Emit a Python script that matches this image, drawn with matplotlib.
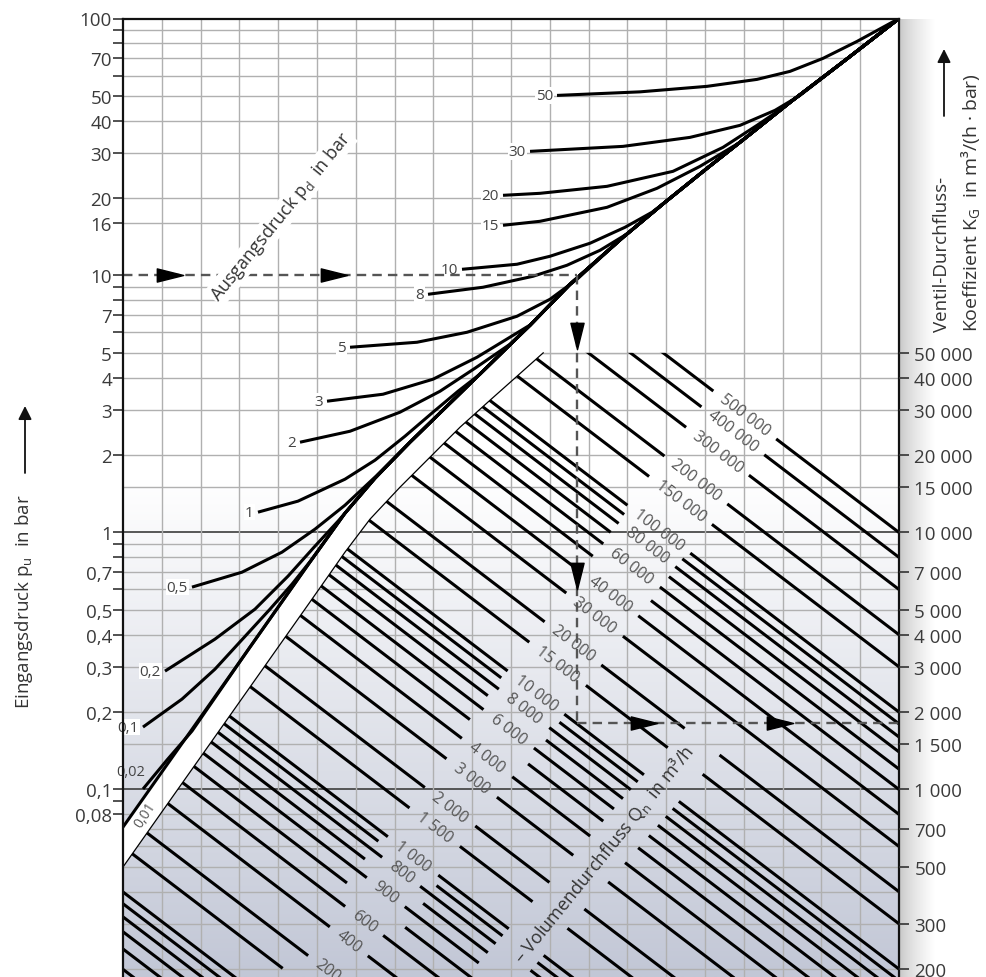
import numpy as np
import matplotlib.pyplot as plt
from matplotlib.patches import Polygon
from matplotlib.path import Path
from matplotlib.colors import LinearSegmentedColormap
from matplotlib.ticker import NullLocator

plt.rcParams['font.family'] = ['Open Sans', 'DejaVu Sans']
plt.rcParams['mathtext.fontset'] = 'custom'
plt.rcParams['mathtext.rm'] = 'Open Sans'
plt.rcParams['mathtext.it'] = 'Open Sans:italic'

# ---- chart values ----------------------------------------------------------
X_MAX = 20                      # horizontal scale: 20 equal, unlabelled steps
P_MIN, P_MAX = 0.01863, 100     # inlet pressure range shown (bar)
KG_PER_BAR = 10000              # right scale = left scale * 10 000

pu_ticks = [100, 90, 80, 70, 60, 50, 40, 30, 20, 16, 10, 9, 8, 7, 6, 5, 4, 3, 2,
            1, 0.9, 0.8, 0.7, 0.6, 0.5, 0.4, 0.3, 0.2, 0.1, 0.09, 0.08]
pu_tick_labels = ['100', '', '', '70', '', '50', '40', '30', '20', '16', '10', '', '', '7', '',
                  '5', '4', '3', '2', '1', '', '', '0,7', '', '0,5', '0,4', '0,3', '0,2',
                  '0,1', '', '0,08']
kg_ticks = [50000, 40000, 30000, 20000, 15000, 10000, 7000, 5000, 4000, 3000,
            2000, 1500, 1000, 700, 500, 300, 200]

grid_rows = [90, 80, 70, 60, 50, 40, 30, 20, 16, 9, 8, 7, 6, 5, 4, 3, 2, 1.5,
             0.9, 0.8, 0.7, 0.6, 0.5, 0.4, 0.3, 0.2, 0.15,
             0.08, 0.07, 0.06, 0.05, 0.04, 0.03, 0.02]
decade_rows = [1, 0.1]

# upper edge of the white band (critical flow line, also the 0,01 curve)
env_x = [0, 1.546, 3.273, 4.871, 5.722, 6.495, 7.397, 8.428, 9.459, 10.490, 11.521,
         12.887, 13.969, 15.052, 16.160, 17.191, 18.608, 20]
env_p = [0.0714, 0.1529, 0.358, 0.7873, 1.189, 1.626, 2.245, 3.184, 4.514, 6.402,
         9.243, 14.08, 19.27, 26.12, 35.42, 47.17, 68.71, 100]

# lower edge of the white band, where the flow lines begin
band_x = [0, 1.546, 3.273, 4.871, 5.722, 6.366, 7.139, 7.912, 8.686, 9.459, 10.155,
          10.83]
band_p = [0.04991, 0.1069, 0.2502, 0.5502, 0.8385, 1.1265, 1.5004, 1.963, 2.568,
          3.27, 4.055, 5.0]

# outlet pressure curves pd (bar): points
pd50_x = [11.186, 13.325, 15.052, 16.340, 17.191, 18.041, 18.918, 20]
pd50_p = [50.2, 51.83, 54.45, 57.95, 62.27, 69.96, 81.44, 100]
pd30_x = [10.490, 12.887, 14.613, 15.902, 16.804, 17.448, 18.015]
pd30_p = [30.41, 31.80, 34.47, 38.39, 43.92, 50.2, 58.48]
pd20_x = [9.794, 10.747, 12.474, 14.175, 15.464, 16.340, 17.062]
pd20_p = [20.51, 20.88, 22.23, 25.43, 31.52, 38.39, 45.51]
pd15_x = [9.794, 10.747, 12.474, 13.763, 14.871, 15.902]
pd15_p = [15.68, 16.25, 18.42, 21.84, 26.59, 32.97]
pd10_x = [8.737, 10.155, 11.005, 12.036, 12.938, 13.634]
pd10_p = [10.57, 11.06, 11.88, 13.35, 15.40, 17.62]
pd8_x = [7.861, 9.278, 10.567, 11.443, 12.294, 13.015]
pd8_p = [8.45, 9.00, 9.93, 10.96, 12.53, 14.59]
pd5_x = [5.851, 7.577, 8.866, 10.155, 11.005, 11.701]
pd5_p = [5.257, 5.498, 6.013, 6.94, 8.08, 9.665]
pd3_x = [5.258, 6.701, 7.990, 9.124, 9.845, 10.438]
pd3_p = [3.242, 3.451, 3.948, 4.807, 5.598, 6.345]
pd2_x = [4.562, 5.851, 7.139, 8.170, 9.072, 9.974]
pd2_p = [2.245, 2.477, 2.938, 3.544, 4.356, 5.401]
pd1_x = [3.479, 4.510, 5.722, 6.495, 7.268, 7.990, 8.634, 9.201]
pd1_p = [1.1995, 1.324, 1.612, 1.911, 2.369, 2.938, 3.544, 4.128]
pd05_x = [1.778, 3.067, 4.098, 4.948, 5.722, 6.521]
pd05_p = [0.6128, 0.7006, 0.8383, 1.03, 1.277, 1.656]
pd02_x = [1.082, 2.371, 3.402, 4.253, 4.948, 5.541]
pd02_p = [0.2887, 0.3846, 0.5031, 0.6761, 0.8846, 1.106]
pd01_x = [0.515, 1.521, 2.371, 3.222, 3.789, 4.356]
pd01_p = [0.1749, 0.2247, 0.2939, 0.4058, 0.5031, 0.6294]
pd002_x = [0.515, 1.134, 1.778]
pd002_p = [0.1004, 0.1302, 0.1687]

# flow lines Qn in m3/h, and the numbers printed on them
qn_values = [500000, 400000, 300000, 200000, 150000, 100000, 90000, 80000, 70000,
             60000, 50000, 40000, 30000, 20000, 15000, 10000, 9000, 8000, 7000,
             6000, 5000, 4000, 3000, 2000, 1500, 1000, 900, 800, 700, 600, 500,
             400, 300, 200, 150, 100, 90, 80, 70, 60, 50, 40]
qn_labelled = [500000, 400000, 300000, 200000, 150000, 100000, 80000, 60000, 40000,
               30000, 20000, 15000, 10000, 8000, 6000, 4000, 3000, 2000, 1500, 1000,
               800, 600, 400, 300, 200]
qn_label_text = ['500 000', '400 000', '300 000', '200 000', '150 000', '100 000',
                 '80 000', '60 000', '40 000', '30 000', '20 000', '15 000', '10 000',
                 '8 000', '6 000', '4 000', '3 000', '2 000', '1 500', '1 000',
                 '800', '900', '600', '400', '200']
QN_REF = 500000     # flow line that ends at KG 10 000 on the right edge
QN_SLOPE = 0.115    # decades per grid step

# worked example (dashed path)
EX_PU = 10
EX_X = 11.69
EX_KG = 1815

# ---- layout helpers ---------------------------------------------------------
LAB_X0, LAB_LOG0, LAB_SLOPE = 16.02, 0.4562, 0.2007   # diagonal row of numbers
TXT_X0, TXT_LOG0, TXT_SLOPE = 9.897, -1.679, 0.172    # "Volumendurchfluss" row
TXT_XA, TXT_XB, TXT_GAP = 9.5, 15.0, 0.45


def qn_log(q, x):
    return np.log10(q / QN_REF) + QN_SLOPE * (X_MAX - x)


def cross(q, x0, log0, slope):
    return (np.log10(q / QN_REF) + QN_SLOPE * X_MAX - log0 + slope * x0) / (QN_SLOPE + slope)


def fmt_num(v):
    return f"{v:,}".replace(',', ' ')


fig = plt.figure(figsize=(9.86, 9.78), dpi=100)

# soft shadow right of the chart frame
sh = fig.add_axes([899 / 986, 0, 36 / 986, 958.5 / 978], zorder=-1)
sh.imshow(np.linspace(0, 1, 64)[None, :] ** 0.7, cmap=LinearSegmentedColormap.from_list(
    'sh', ['#c4c4c4', '#ffffff']), aspect='auto', extent=(0, 1, 0, 1))
sh.axis('off')

ax = fig.add_axes([123 / 986, 0, 776 / 986, 958.5 / 978])
ax.set_xlim(0, X_MAX)
ax.set_yscale('log')
ax.set_ylim(P_MIN, P_MAX)

# blue-grey gradient in the lower half
g = np.clip((0.52 - np.linspace(1, 0, 400)) / 0.52, 0, 1)[:, None]
ax.imshow(g, cmap=LinearSegmentedColormap.from_list('bg', ['#ffffff', '#c2c7d6']),
          extent=(0, 1, 0, 1), transform=ax.transAxes, aspect='auto', zorder=0)

ax.hlines(grid_rows, 0, X_MAX, color='#b0b0b0', lw=1.0, zorder=1)
ax.hlines(decade_rows, 0, X_MAX, color='#4a4a4a', lw=1.3, zorder=1)

# white band and the empty corner above 5 bar
mask_pts = list(zip(env_x, env_p)) + [(X_MAX, 5)] + list(zip(band_x, band_p))[::-1]
ax.add_patch(Polygon(mask_pts, closed=True, fc='white', ec='none', zorder=2))
ax.vlines(np.arange(1, X_MAX), P_MIN, P_MAX, color='#b0b0b0', lw=1.0, zorder=2.5)
ax.hlines([5], band_x[-1], X_MAX, color='#b0b0b0', lw=1.0, zorder=2.5)

# flow lines, clipped to the area right of the band
region = Polygon(list(zip(band_x, band_p)) + [(X_MAX, 5), (X_MAX, P_MIN), (0, P_MIN)],
                 closed=True, transform=ax.transData)
p0 = ax.transData.transform((10, 1))
p1 = ax.transData.transform((11, 10 ** (-QN_SLOPE)))
line_angle = np.degrees(np.arctan2(p1[1] - p0[1], p1[0] - p0[0]))
labels = dict(zip(qn_labelled, qn_label_text))
for q in qn_values:
    xl = cross(q, LAB_X0, LAB_LOG0, LAB_SLOPE)
    half = 0.25 + 0.08 * len(labels[q]) if q in labels else 0.75
    cuts = [(xl - half, xl + half)]
    xt = cross(q, TXT_X0, TXT_LOG0, TXT_SLOPE)
    if TXT_XA <= xt <= TXT_XB:
        cuts.append((xt - TXT_GAP, xt + TXT_GAP))
    segs = [(0.0, float(X_MAX))]
    for a, b in cuts:
        new = []
        for s, e in segs:
            if b <= s or a >= e:
                new.append((s, e))
                continue
            if a > s:
                new.append((s, a))
            if b < e:
                new.append((b, e))
        segs = new
    for s, e in segs:
        ln, = ax.plot([s, e], [10 ** qn_log(q, s), 10 ** qn_log(q, e)], color='black',
                      lw=2.2, solid_capstyle='butt', zorder=3)
        ln.set_clip_path(region)
    if q in labels:
        ax.text(xl, 10 ** qn_log(q, xl), labels[q], rotation=line_angle,
                rotation_mode='anchor', ha='center', va='center', fontsize=11.5,
                color='#555555', zorder=5)

ax.plot(band_x, band_p, color='black', lw=0.9, zorder=3)

# outlet pressure curves, each running into the critical line
curves = [('50', pd50_x, pd50_p), ('30', pd30_x, pd30_p), ('20', pd20_x, pd20_p),
          ('15', pd15_x, pd15_p), ('10', pd10_x, pd10_p), ('8', pd8_x, pd8_p),
          ('5', pd5_x, pd5_p), ('3', pd3_x, pd3_p), ('2', pd2_x, pd2_p),
          ('1', pd1_x, pd1_p), ('0,5', pd05_x, pd05_p), ('0,2', pd02_x, pd02_p),
          ('0,1', pd01_x, pd01_p), ('0,02', pd002_x, pd002_p)]
ax.plot(env_x, env_p, color='black', lw=2.2, zorder=4, solid_joinstyle='round')
for name, xs, ps in curves:
    tail = [(x, p) for x, p in zip(env_x, env_p) if x > xs[-1] + 0.05]
    cx = list(xs) + [t[0] for t in tail]
    cp = list(ps) + [t[1] for t in tail]
    ax.plot(cx, cp, color='black', lw=2.2, zorder=4, solid_joinstyle='round',
            solid_capstyle='butt')
    if name == '0,02':
        ax.text(0.21, 0.117, name, ha='center', va='center', fontsize=10.5,
                color='#444444', zorder=6)
    else:
        ax.annotate(name, (xs[0], ps[0]), xytext=(-3, 0), textcoords='offset points',
                    ha='right', va='center', fontsize=11, color='#444444', zorder=6,
                    bbox=dict(fc='white', ec='none', pad=0.6))
ax.text(0.57, 0.0802, '0,01', rotation=57, ha='center', va='center', fontsize=10,
        color='#555555', zorder=6)

# worked example
dash = dict(color='#555555', lw=1.7, dashes=(4, 2.6), zorder=6)
ex_p = EX_KG / KG_PER_BAR
ax.plot([0, EX_X], [EX_PU, EX_PU], **dash)
ax.plot([EX_X, EX_X], [EX_PU, ex_p], **dash)
ax.plot([EX_X, X_MAX], [ex_p, ex_p], **dash)
tri_r = Path([(-1, -0.5), (1, 0), (-1, 0.5), (-1, -0.5)],
             [Path.MOVETO, Path.LINETO, Path.LINETO, Path.CLOSEPOLY])
tri_d = Path([(-0.5, 1), (0, -1), (0.5, 1), (-0.5, 1)],
             [Path.MOVETO, Path.LINETO, Path.LINETO, Path.CLOSEPOLY])
ax.plot([1.21, 5.44], [EX_PU, EX_PU], ls='none', marker=tri_r, ms=19, color='black', zorder=7)
ax.plot([EX_X, EX_X], [5.80, 0.676], ls='none', marker=tri_d, ms=19, color='black', zorder=7)
ax.plot([13.43, 16.93], [ex_p, ex_p], ls='none', marker=tri_r, ms=19, color='black', zorder=7)

# frame and scales
for side in ('left', 'right', 'top'):
    ax.spines[side].set_linewidth(1.6)
    ax.spines[side].set_color('#111111')
    ax.spines[side].set_zorder(8)
ax.spines['bottom'].set_visible(False)
ax.set_xticks([])
ax.set_yticks(pu_ticks)
ax.set_yticklabels(pu_tick_labels)
ax.yaxis.set_minor_locator(NullLocator())
ax.tick_params(axis='y', direction='out', length=7, width=1.2, color='#333333',
               labelsize=13.5, labelcolor='#3a3a3a', pad=1)

ax2 = ax.twinx()
ax2.set_yscale('log')
ax2.set_ylim(P_MIN * KG_PER_BAR, P_MAX * KG_PER_BAR)
ax2.set_yticks(kg_ticks)
ax2.set_yticklabels([fmt_num(k) for k in kg_ticks])
ax2.yaxis.set_minor_locator(NullLocator())
ax2.tick_params(axis='y', direction='out', length=7, width=1.2, color='#333333',
                labelsize=13.5, labelcolor='#3a3a3a', pad=4)
for s in ax2.spines.values():
    s.set_visible(False)

# texts
ax.text(4.07, 17.0, r'Ausgangsdruck p$_\mathrm{d}$  in bar', rotation=51, ha='center',
        va='center', fontsize=13, color='#333333', zorder=6,
        bbox=dict(fc='white', ec='none', pad=1.0))
ax.text(12.38, 0.0561, r'– Volumendurchfluss Q$_\mathrm{n}$  in m³/h', rotation=51,
        ha='center', va='center', fontsize=13, color='#333333', zorder=6)

fig.text(24 / 986, 1 - 602 / 978, r'Eingangsdruck p$_\mathrm{u}$  in bar', rotation=90,
         ha='center', va='center', fontsize=13.5, color='#333333')
fig.text(942 / 986, 1 - 332 / 978, 'Ventil-Durchfluss-', rotation=90, ha='center',
         va='bottom', fontsize=13.5, color='#333333')
fig.text(970 / 986, 1 - 332 / 978, r'Koeffizient K$_\mathrm{G}$  in m³/(h · bar)',
         rotation=90, ha='center', va='bottom', fontsize=14, color='#333333')
arrow = dict(arrowstyle='-|>', color='#111111', lw=1.3, mutation_scale=20, shrinkA=0, shrinkB=0)
fig.add_artist(plt.Annotation('', xy=(25, 978 - 407), xytext=(25, 978 - 474),
                              xycoords='figure pixels', arrowprops=arrow))
fig.add_artist(plt.Annotation('', xy=(944, 978 - 50), xytext=(944, 978 - 117),
                              xycoords='figure pixels', arrowprops=arrow))

fig.savefig('out.png', dpi=100)
